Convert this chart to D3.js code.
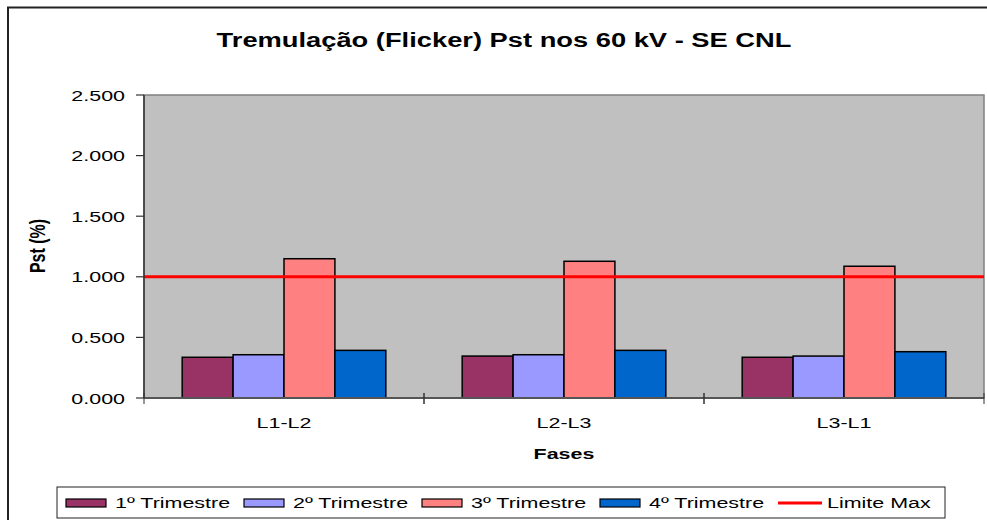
<!DOCTYPE html>
<html>
<head>
<meta charset="utf-8">
<script src="https://cdn.jsdelivr.net/npm/d3@7"></script>
<style>
    body { margin: 0; background: #fff; }
    svg { display: block; font-family: Arial, "Liberation Sans", sans-serif; }
</style>
</head>
<body>
<div id="chart"></div>
<script>
const phases = ["L1-L2", "L2-L3", "L3-L1"];
const quarters = ["1º Trimestre", "2º Trimestre", "3º Trimestre", "4º Trimestre"];
const q1 = [0.336, 0.346, 0.336];
const q2 = [0.357, 0.357, 0.346];
const q3 = [1.149, 1.128, 1.087];
const q4 = [0.393, 0.393, 0.382];
const limitMax = 1.0;
const yTicks = [0, 0.5, 1.0, 1.5, 2.0, 2.5];
const colors = ["#993366", "#9999ff", "#ff8080", "#0066cc"];

const series = [q1, q2, q3, q4];
const width = 987, height = 520;
const SX = 1.43; // text in the picture is stretched sideways

const svg = d3.select("#chart").append("svg")
    .attr("width", width)
    .attr("height", height);

// stretched text helper
function label(x, y, txt, size, weight, anchor, rot, sx) {
    const g = svg.append("g")
        .attr("transform", `translate(${x},${y}) scale(${sx || SX},1)` + (rot ? ` rotate(${rot})` : ""));
    return g.append("text")
        .attr("text-anchor", anchor)
        .attr("font-size", size)
        .attr("font-weight", weight)
        .attr("fill", "#000")
        .text(txt);
}

// outer chart border (left and top only visible)
svg.append("path")
    .attr("d", "M8,520 V7.5 H987")
    .attr("fill", "none")
    .attr("stroke", "#222")
    .attr("stroke-width", 2);

const x0 = d3.scaleBand().domain(phases).range([144, 984]);
const x1 = d3.scaleBand().domain(d3.range(quarters.length))
    .range([0, x0.bandwidth()]).paddingInner(0).paddingOuter(0.75);
const y = d3.scaleLinear().domain([0, 2.5]).range([398, 95]);

// plot area
svg.append("rect")
    .attr("x", 144).attr("y", y(2.5))
    .attr("width", 984 - 144).attr("height", y(0) - y(2.5))
    .attr("fill", "#c0c0c0")
    .attr("stroke", "#808080")
    .attr("stroke-width", 1.5);

// bars
phases.forEach((p, i) => {
    series.forEach((s, k) => {
        svg.append("rect")
            .attr("x", x0(p) + x1(k))
            .attr("y", y(s[i]))
            .attr("width", x1.bandwidth())
            .attr("height", y(0) - y(s[i]))
            .attr("fill", colors[k])
            .attr("stroke", "#000")
            .attr("stroke-width", 1.5);
    });
});

// limit line
svg.append("line")
    .attr("x1", 144).attr("x2", 984)
    .attr("y1", y(limitMax)).attr("y2", y(limitMax))
    .attr("stroke", "#ff0000")
    .attr("stroke-width", 3);

// y axis
svg.append("line")
    .attr("x1", 144).attr("x2", 144)
    .attr("y1", y(2.5)).attr("y2", y(0))
    .attr("stroke", "#333").attr("stroke-width", 1.5);
yTicks.forEach(t => {
    svg.append("line")
        .attr("x1", 136).attr("x2", 144)
        .attr("y1", y(t)).attr("y2", y(t))
        .attr("stroke", "#333").attr("stroke-width", 1.2);
    label(125, y(t) + 5.5, d3.format(".3f")(t), 15, "normal", "end");
});

// x axis
svg.append("line")
    .attr("x1", 144).attr("x2", 984)
    .attr("y1", y(0)).attr("y2", y(0))
    .attr("stroke", "#555").attr("stroke-width", 2);
phases.forEach(p => {
    [x0(p), x0(p) + x0.bandwidth()].forEach(xx => {
        svg.append("line")
            .attr("x1", xx).attr("x2", xx)
            .attr("y1", y(0) - 5).attr("y2", y(0) + 6)
            .attr("stroke", "#333").attr("stroke-width", 1);
    });
    label(x0(p) + x0.bandwidth() / 2, 428, p, 15, "normal", "middle");
});

// titles
label(504, 47, "Tremulação (Flicker) Pst nos 60 kV - SE CNL", 21, "bold", "middle", 0, 1.3);
label(564, 459, "Fases", 15, "bold", "middle");
label(45, 246, "Pst (%)", 16, "bold", "middle", -90);

// legend
svg.append("rect")
    .attr("x", 57).attr("y", 487)
    .attr("width", 888).attr("height", 31)
    .attr("fill", "#fff")
    .attr("stroke", "#222").attr("stroke-width", 1);
quarters.forEach((q, k) => {
    const lx = 66 + k * 178;
    svg.append("rect")
        .attr("x", lx).attr("y", 499)
        .attr("width", 40).attr("height", 8)
        .attr("fill", colors[k])
        .attr("stroke", "#000").attr("stroke-width", 1.2);
    label(lx + 49, 508, q, 15, "normal", "start");
});
svg.append("line")
    .attr("x1", 778).attr("x2", 822)
    .attr("y1", 503).attr("y2", 503)
    .attr("stroke", "#ff0000").attr("stroke-width", 3);
label(827, 508, "Limite Max", 15, "normal", "start");
</script>
</body>
</html>
